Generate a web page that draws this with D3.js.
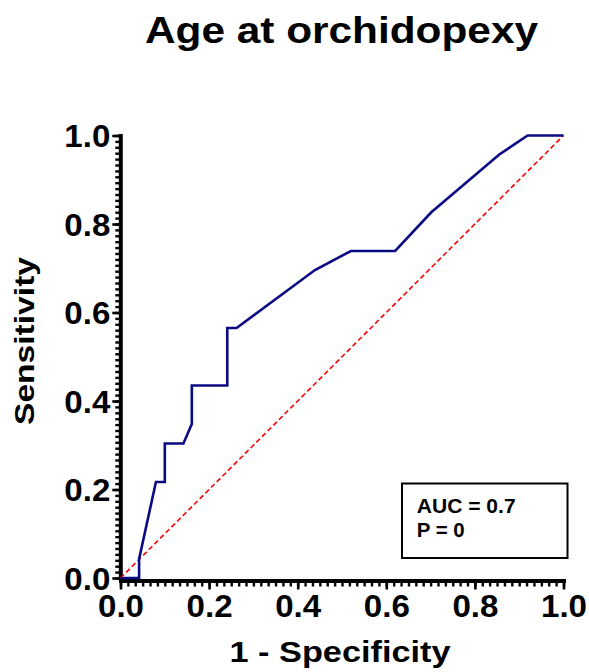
<!DOCTYPE html>
<html>
<head>
<meta charset="utf-8">
<script src="https://cdn.jsdelivr.net/npm/d3@7"></script>
<style>
  html, body { margin: 0; padding: 0; background: #fff; }
  svg { display: block; }
  text { font-family: "Liberation Sans", Arial, Helvetica, sans-serif; font-weight: bold; fill: #000; }
</style>
</head>
<body>
<svg id="chart" width="589" height="672"></svg>
<script>
// ---- data ----
const titleText = "Age at orchidopexy";
const xLabel = "1 - Specificity";
const yLabel = "Sensitivity";
const rocFPR = [0, 0.042, 0.042, 0.080, 0.100, 0.100, 0.142, 0.161, 0.161, 0.241, 0.241, 0.262, 0.439, 0.520, 0.620, 0.701, 0.855, 0.919, 1.0];
const rocTPR = [0, 0,     0.043, 0.217, 0.217, 0.304, 0.304, 0.348, 0.435, 0.435, 0.565, 0.565, 0.696, 0.739, 0.739, 0.826, 0.957, 1.0,   1.0];
const refLine = [0, 1];
const majorTicks = [0, 0.2, 0.4, 0.6, 0.8, 1.0];
const xMinorCount = 60;
const yMinorCount = 75;
const legendLines = ["AUC = 0.7", "P = 0"];

// ---- layout ----
const svg = d3.select("#chart");
const x = d3.scaleLinear().domain([0, 1]).range([120.5, 563.5]);
const y = d3.scaleLinear().domain([0, 1]).range([578, 135.5]);
const xAxisY = 580.5, yAxisX = 120.3;

const fmt = d3.format(".1f");

// minor ticks
const xMinor = d3.range(0, xMinorCount + 1).map(i => i / xMinorCount);
const yMinor = d3.range(0, yMinorCount + 1).map(i => i / yMinorCount);

const gxm = svg.append("g").attr("transform", `translate(0,${xAxisY})`)
  .call(d3.axisBottom(x).tickValues(xMinor).tickSize(6).tickSizeOuter(0).tickFormat(""));
const gym = svg.append("g").attr("transform", `translate(${yAxisX},0)`)
  .call(d3.axisLeft(y).tickValues(yMinor).tickSize(5).tickSizeOuter(0).tickFormat(""));
[gxm, gym].forEach(g => {
  g.select(".domain").remove();
  g.selectAll(".tick line").attr("stroke", "#000").attr("stroke-width", 2.4);
});

// major axes
const gx = svg.append("g").attr("transform", `translate(0,${xAxisY})`)
  .call(d3.axisBottom(x).tickValues(majorTicks).tickSize(9).tickSizeOuter(0).tickPadding(5).tickFormat(fmt));
const gy = svg.append("g").attr("transform", `translate(${yAxisX},0)`)
  .call(d3.axisLeft(y).tickValues(majorTicks).tickSize(8).tickSizeOuter(0).tickPadding(2).tickFormat(fmt));
[gx, gy].forEach(g => {
  g.select(".domain").attr("stroke", "#000").attr("stroke-width", 4).attr("stroke-linecap", "square");
  g.selectAll(".tick line").attr("stroke", "#000").attr("stroke-width", 2.6);
  g.selectAll(".tick text")
    .style("font-family", '"Liberation Sans", Arial, sans-serif')
    .style("font-weight", "bold")
    .style("font-size", "31px")
    .attr("fill", "#000")
    .attr("textLength", 46)
    .attr("lengthAdjust", "spacingAndGlyphs");
});
gy.selectAll(".tick text").attr("dy", "0.36em");

// reference diagonal
svg.append("line")
  .attr("x1", x(refLine[0])).attr("y1", y(refLine[0]))
  .attr("x2", x(refLine[1])).attr("y2", y(refLine[1]))
  .attr("stroke", "#ff0000").attr("stroke-width", 1.6)
  .attr("stroke-dasharray", "5,3");

// ROC curve
const line = d3.line().x(d => x(d[0])).y(d => y(d[1]));
svg.append("path")
  .datum(rocFPR.map((f, i) => [f, rocTPR[i]]))
  .attr("d", line)
  .attr("fill", "none")
  .attr("stroke", "#0a0a82")
  .attr("stroke-width", 2.6)
  .attr("stroke-linejoin", "miter");

// title
svg.append("text")
  .attr("x", 341.5).attr("y", 43)
  .attr("text-anchor", "middle")
  .style("font-size", "36px")
  .attr("textLength", 393).attr("lengthAdjust", "spacingAndGlyphs")
  .text(titleText);

// x label
svg.append("text")
  .attr("x", 340).attr("y", 662)
  .attr("text-anchor", "middle")
  .style("font-size", "30px")
  .attr("textLength", 221).attr("lengthAdjust", "spacingAndGlyphs")
  .text(xLabel);

// y label
svg.append("text")
  .attr("transform", "translate(34,341) rotate(-90)")
  .attr("text-anchor", "middle")
  .style("font-size", "28px")
  .attr("textLength", 168).attr("lengthAdjust", "spacingAndGlyphs")
  .text(yLabel);

// legend box
svg.append("rect")
  .attr("x", 402).attr("y", 483.5)
  .attr("width", 165.5).attr("height", 74.5)
  .attr("fill", "#fff").attr("stroke", "#000").attr("stroke-width", 2);
const legendWidths = [99, 48];
svg.selectAll(".leg").data(legendLines).enter().append("text")
  .attr("class", "leg")
  .attr("x", 416.7)
  .attr("y", (d, i) => 512.7 + i * 24)
  .style("font-size", "20px")
  .attr("textLength", (d, i) => legendWidths[i]).attr("lengthAdjust", "spacingAndGlyphs")
  .text(d => d);
</script>
</body>
</html>
